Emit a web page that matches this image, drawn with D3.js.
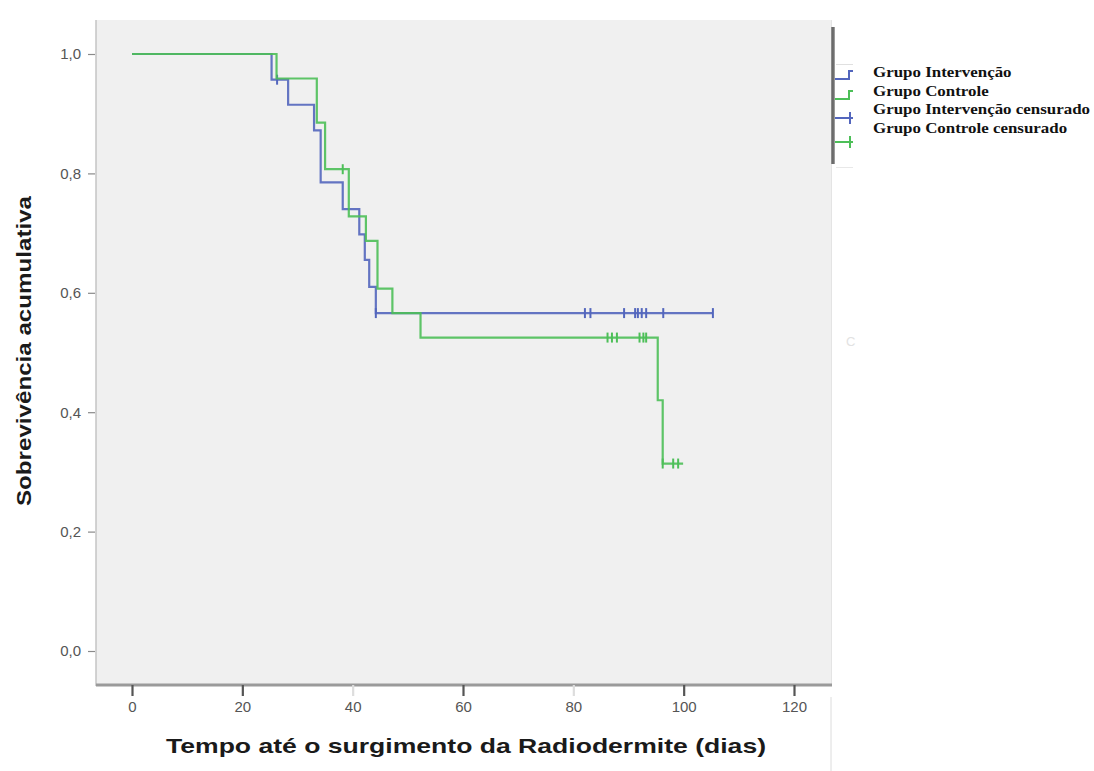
<!DOCTYPE html>
<html>
<head>
<meta charset="utf-8">
<script src="https://cdn.jsdelivr.net/npm/d3@7"></script>
<style>
  html, body { margin: 0; padding: 0; background: #fff; }
  svg { display: block; }
</style>
</head>
<body>
<svg id="chart" width="1094" height="771"></svg>
<script>
// ---- Data ----
const xTicks = [0, 20, 40, 60, 80, 100, 120];
const yTicks = [0, 0.2, 0.4, 0.6, 0.8, 1.0];

const intervTimes = [0, 25.3, 28.3, 33.0, 34.2, 38.2, 41.2, 42.2, 43.0, 44.2, 105.3];
const intervSurv  = [1.0, 0.957, 0.915, 0.872, 0.785, 0.740, 0.698, 0.655, 0.610, 0.566, 0.566];
const intervCensor = [26.3, 44.2, 82.1, 83.1, 89.2, 91.2, 91.7, 92.4, 93.2, 96.3, 105.3];

const controlTimes = [0, 26.2, 33.5, 35.0, 39.3, 42.4, 44.5, 47.2, 52.3, 95.3, 96.2, 99.9];
const controlSurv  = [1.0, 0.959, 0.885, 0.807, 0.728, 0.687, 0.607, 0.566, 0.525, 0.420, 0.314, 0.314];
const controlCensor = [38.2, 86.2, 87.0, 87.9, 92.0, 92.7, 93.2, 96.2, 98.1, 99.0];

const legendLabels = ["Grupo Intervenção", "Grupo Controle", "Grupo Intervenção censurado", "Grupo Controle censurado"];
const xTitle = "Tempo até o surgimento da Radiodermite (dias)";
const yTitle = "Sobrevivência acumulativa";

const blue = "#5366bd";
const green = "#4dbf58";

// ---- Chart ----
const svg = d3.select("#chart");
const x = d3.scaleLinear().domain([0, 120]).range([132, 794]);
const y = d3.scaleLinear().domain([0, 1]).range([651, 54]);

const plotL = 96, plotR = 832, plotT = 20, plotB = 684;

svg.append("rect").attr("x", plotL).attr("y", plotT)
  .attr("width", plotR - plotL).attr("height", plotB - plotT)
  .attr("fill", "#f0f0f0");

// left frame line
svg.append("line").attr("x1", plotL).attr("x2", plotL).attr("y1", plotT).attr("y2", plotB + 2)
  .attr("stroke", "#c4c4c4").attr("stroke-width", 1.5);
// right faint edge
svg.append("line").attr("x1", plotR - 0.5).attr("x2", plotR - 0.5).attr("y1", plotT).attr("y2", plotB)
  .attr("stroke", "#e4e4e4").attr("stroke-width", 1);
// line below the plot on the right
svg.append("line").attr("x1", 831).attr("x2", 831).attr("y1", 697).attr("y2", 771)
  .attr("stroke", "#dcdcdc").attr("stroke-width", 1);
// bottom axis line
svg.append("line").attr("x1", plotL).attr("x2", plotR).attr("y1", plotB + 1).attr("y2", plotB + 1)
  .attr("stroke", "#9a9a9a").attr("stroke-width", 3);

// Y axis ticks & labels
const yAxis = d3.axisLeft(y).tickValues(yTicks).tickSize(7).tickPadding(7)
  .tickFormat(d => d3.format(".1f")(d).replace(".", ","));
const gy = svg.append("g").attr("transform", `translate(${plotL - 1},0)`).call(yAxis);
gy.select(".domain").remove();
gy.selectAll(".tick line").attr("stroke", "#8a8a8a").attr("stroke-width", 1.2);
gy.selectAll(".tick text").attr("font-family", "Liberation Sans, Arial, sans-serif")
  .attr("font-size", 15).attr("fill", "#555");

// X axis ticks & labels
const xAxis = d3.axisBottom(x).tickValues(xTicks).tickSize(11).tickPadding(5)
  .tickFormat(d3.format("d"));
const gx = svg.append("g").attr("transform", `translate(0,${plotB + 1})`).call(xAxis);
gx.select(".domain").remove();
gx.selectAll(".tick line")
  .attr("stroke", d => (d === 40 || d === 80) ? "#dddddd" : "#555")
  .attr("stroke-width", 2.2);
gx.selectAll(".tick text").attr("font-family", "Liberation Sans, Arial, sans-serif")
  .attr("font-size", 15).attr("fill", "#555");

// Axis titles
svg.append("text").attr("x", 466).attr("y", 753).attr("text-anchor", "middle")
  .attr("font-family", "Liberation Sans, Arial, sans-serif").attr("font-weight", "bold")
  .attr("font-size", 21).attr("fill", "#1a1a1a")
  .attr("textLength", 600).attr("lengthAdjust", "spacingAndGlyphs")
  .text(xTitle);

svg.append("text").attr("transform", "translate(31,351) rotate(-90)").attr("text-anchor", "middle")
  .attr("font-family", "Liberation Sans, Arial, sans-serif").attr("font-weight", "bold")
  .attr("font-size", 20).attr("fill", "#1a1a1a")
  .attr("textLength", 310).attr("lengthAdjust", "spacingAndGlyphs")
  .text(yTitle);

// Step curves
const line = d3.line().x(d => x(d[0])).y(d => y(d[1])).curve(d3.curveStepAfter);
function survAt(times, surv, t) {
  let s = surv[0];
  for (let i = 0; i < times.length; i++) if (times[i] <= t) s = surv[i];
  return s;
}
function drawGroup(times, surv, censor, color) {
  const pts = times.map((t, i) => [t, surv[i]]);
  svg.append("path").datum(pts).attr("d", line)
    .attr("fill", "none").attr("stroke", color).attr("stroke-width", 2.2)
    .attr("stroke-opacity", 0.9);
  svg.append("g").selectAll("line").data(censor).join("line")
    .attr("x1", d => x(d)).attr("x2", d => x(d))
    .attr("y1", d => y(survAt(times, surv, d)) - 5)
    .attr("y2", d => y(survAt(times, surv, d)) + 5)
    .attr("stroke", color).attr("stroke-width", 2);
}
drawGroup(intervTimes, intervSurv, intervCensor, blue);
drawGroup(controlTimes, controlSurv, controlCensor, green);

// Legend
const lg = svg.append("g");
lg.append("rect").attr("x", 834).attr("y", 64).attr("width", 20).attr("height", 104).attr("fill", "#fff");
lg.append("line").attr("x1", 836).attr("x2", 853).attr("y1", 64.5).attr("y2", 64.5).attr("stroke", "#e0e0e0");
lg.append("line").attr("x1", 836).attr("x2", 853).attr("y1", 167.5).attr("y2", 167.5).attr("stroke", "#e8e8e8");
const shadow = svg.append("defs").append("linearGradient").attr("id", "sh").attr("x1", 0).attr("x2", 1);
shadow.append("stop").attr("offset", 0).attr("stop-color", "#9a9a9a");
shadow.append("stop").attr("offset", 0.5).attr("stop-color", "#5a5a5a");
shadow.append("stop").attr("offset", 1).attr("stop-color", "#b0b0b0");
lg.append("rect").attr("x", 831).attr("y", 27).attr("width", 4).attr("height", 137).attr("fill", "url(#sh)");

const symY = [79, 99, 118, 142];
// step symbols
[[blue, symY[0]], [green, symY[1]]].forEach(([c, yy]) => {
  lg.append("path").attr("d", `M835,${yy} H849 V${yy - 8} H853`)
    .attr("fill", "none").attr("stroke", c).attr("stroke-width", 2);
});
// censored symbols
[[blue, symY[2]], [green, symY[3]]].forEach(([c, yy]) => {
  lg.append("line").attr("x1", 835).attr("x2", 853).attr("y1", yy).attr("y2", yy).attr("stroke", c).attr("stroke-width", 2);
  lg.append("line").attr("x1", 850).attr("x2", 850).attr("y1", yy - 6).attr("y2", yy + 6).attr("stroke", c).attr("stroke-width", 2);
});

const textY = [77, 96, 114, 133];
const texts = lg.selectAll("text.leg").data(legendLabels).join("text").attr("class", "leg")
  .attr("x", 873).attr("y", (d, i) => textY[i])
  .attr("font-family", "Liberation Serif, Times New Roman, serif").attr("font-weight", "bold")
  .attr("font-size", 15).attr("fill", "#111")
  .text(d => d);
const lens = texts.nodes().map(n => n.getComputedTextLength());
const factor = 217 / d3.max(lens);
texts.attr("textLength", (d, i) => lens[i] * factor).attr("lengthAdjust", "spacingAndGlyphs");

// faint artifact
svg.append("text").attr("x", 846).attr("y", 346).attr("font-family", "Liberation Sans, sans-serif")
  .attr("font-size", 13).attr("fill", "#e2e2e2").text("C");
</script>
</body>
</html>
